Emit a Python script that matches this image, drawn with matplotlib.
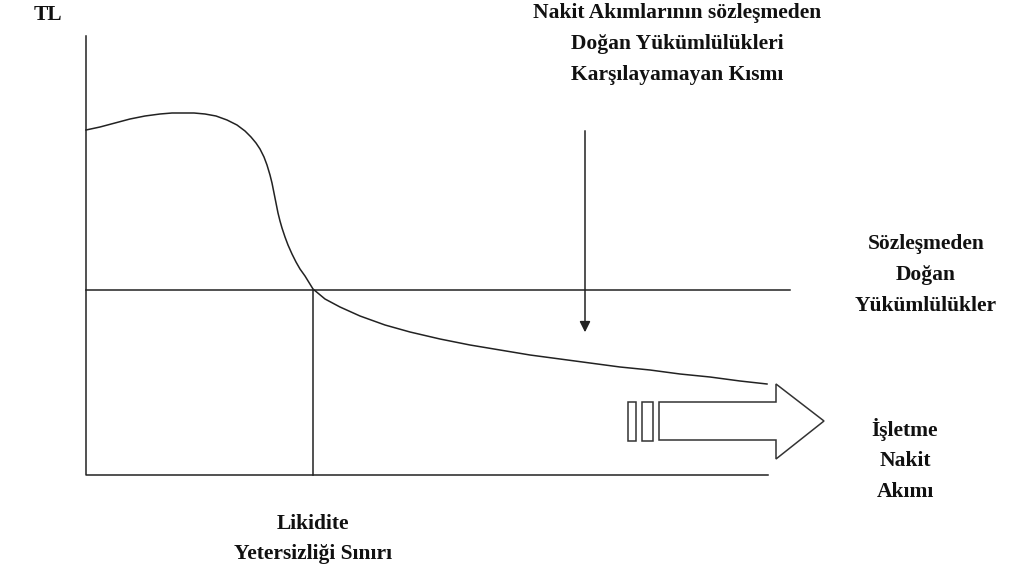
import matplotlib.pyplot as plt
from matplotlib.patches import Polygon, Rectangle

# diagram drawn in pixel units of the reference (x to the right, y downwards)
curve_x = [86, 100, 115, 130, 145, 160, 172, 183, 194, 205, 216, 227, 237, 245, 251, 256,
           260, 264, 267, 270, 272, 274, 276, 278, 280, 282, 285, 288, 292, 296, 300, 305,
           313, 325, 340, 360, 385, 410, 440, 470, 500, 530, 560, 590, 620, 650, 680, 710,
           740, 767]
curve_y = [130, 127, 123, 119, 116, 114, 113, 113, 113, 114, 116, 120, 125, 131, 137, 143,
           149, 157, 165, 175, 183, 193, 203, 213, 221, 228, 237, 245, 254, 262, 269, 276,
           289, 299, 307, 316, 325, 332, 339, 345, 350, 355, 359, 363, 367, 370, 374, 377,
           381, 384]

axis_x = [86, 86, 768]
axis_y = [36, 475, 475]
obligation_x = [86, 790]
obligation_y = [290, 290]
limit_x = [313, 313]
limit_y = [290, 475]

down_arrow = [585, 128, 335]

# block arrow outline
block_x = [659, 776, 776, 824, 776, 776, 659]
block_y = [402, 402, 384, 421, 459, 440, 440]
bar_left = [628, 642]
bar_width = [8, 11]
bar_top = 402
bar_height = 39

labels = [
    ("TL", 48, 15),
    ("Nakit Akımlarının sözleşmeden\nDoğan Yükümlülükleri\nKarşılayamayan Kısmı", 677, 44),
    ("Sözleşmeden\nDoğan\nYükümlülükler", 926, 275),
    ("İşletme\nNakit\nAkımı", 905, 460),
    ("Likidite\nYetersizliği Sınırı", 313, 539),
]

fig = plt.figure(figsize=(10.26, 5.73), dpi=100)
ax = fig.add_axes([0, 0, 1, 1])
ax.set_xlim(0, 1026)
ax.set_ylim(573, 0)
ax.axis('off')

lw = 1.1
ax.plot(axis_x, axis_y, color='#222222', lw=lw)
ax.plot(obligation_x, obligation_y, color='#222222', lw=lw)
ax.plot(limit_x, limit_y, color='#222222', lw=lw)
ax.plot(curve_x, curve_y, color='#222222', lw=lw)

ax.annotate('', xy=(down_arrow[0], down_arrow[2]), xytext=(down_arrow[0], down_arrow[1]),
            arrowprops=dict(arrowstyle='-|>', color='#222222', lw=lw, mutation_scale=16))

ax.add_patch(Polygon(list(zip(block_x, block_y)), closed=True, fill=False,
                     edgecolor='#333333', lw=lw))
for left, w in zip(bar_left, bar_width):
    ax.add_patch(Rectangle((left, bar_top), w, bar_height, fill=False,
                           edgecolor='#333333', lw=lw))

for text, x, y in labels:
    ax.text(x, y, text, ha='center', va='center', fontsize=15.5, fontweight='bold',
            family='Liberation Serif', linespacing=1.72, color='#111111')

fig.savefig('out.png', dpi=100)
